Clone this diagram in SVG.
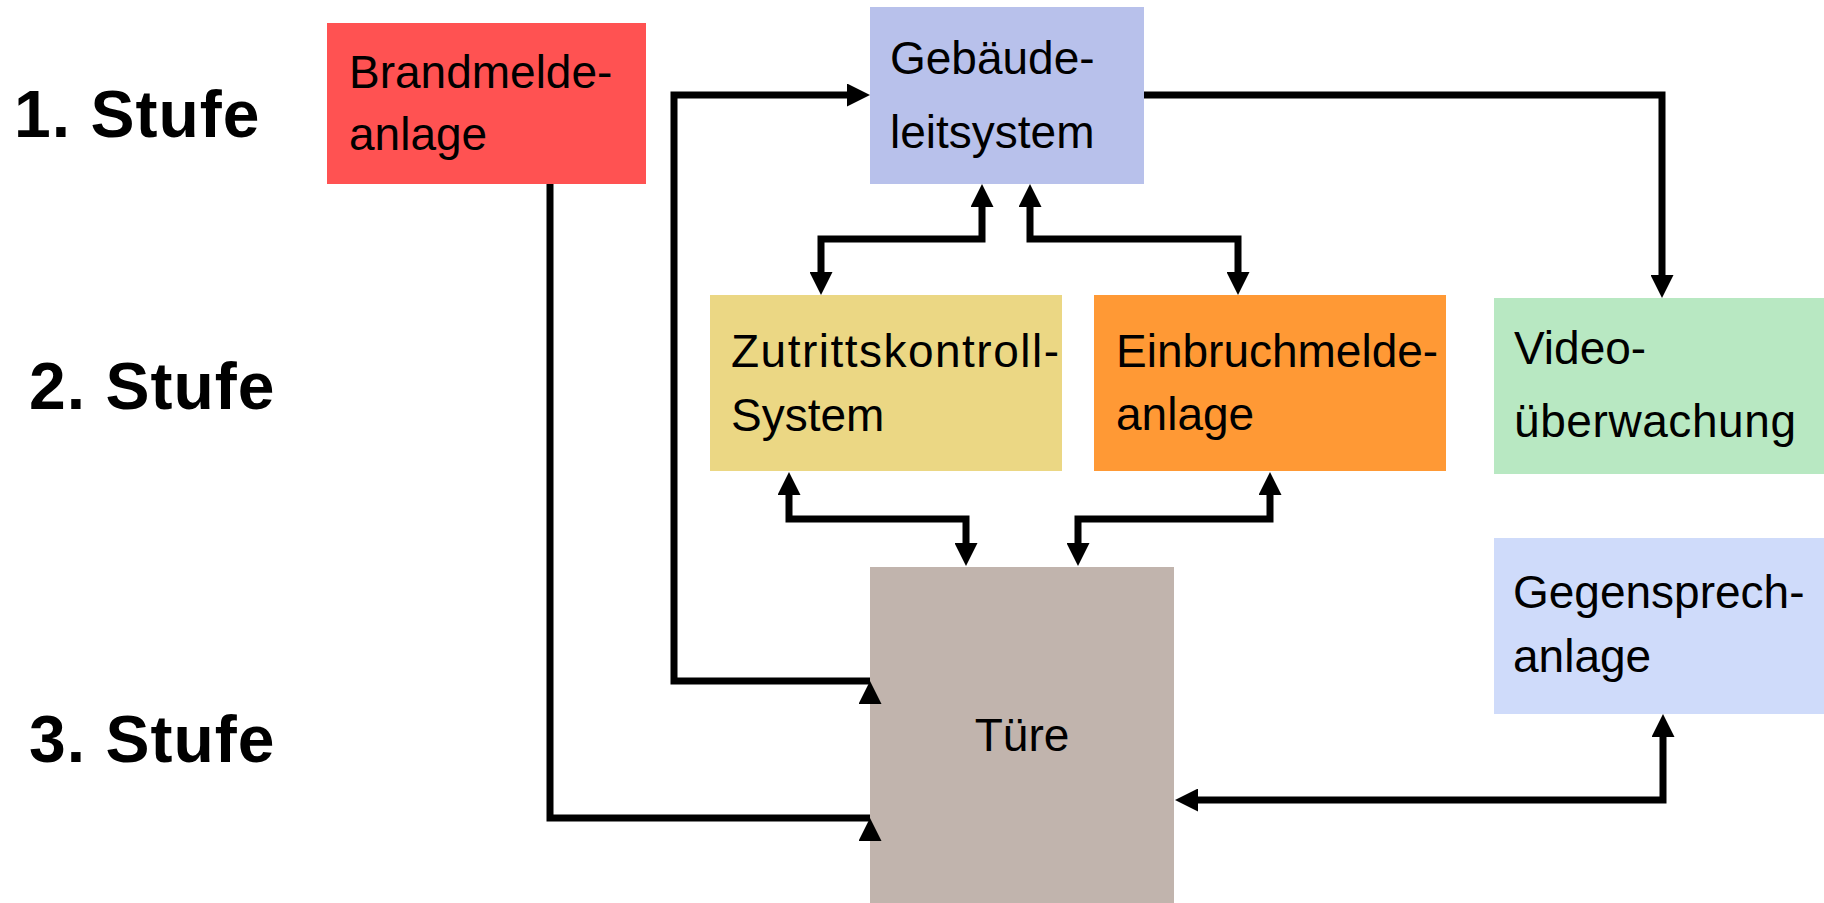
<svg xmlns="http://www.w3.org/2000/svg" width="1824" height="903" viewBox="0 0 1824 903">
<style>
.box text{font-family:"Liberation Sans",Arial,sans-serif;font-size:46px;fill:#000}
.stufe{font-family:"Liberation Sans",Arial,sans-serif;font-size:66px;font-weight:bold;fill:#000;letter-spacing:1px}
.conn{fill:none;stroke:#000;stroke-width:7;stroke-linejoin:miter;stroke-linecap:butt}
</style>
<defs>
<marker id="arrow" viewBox="0 0 23 23" markerWidth="23" markerHeight="23" markerUnits="userSpaceOnUse" refX="0" refY="11.5" orient="auto-start-reverse">
<path d="M0,0 L23,11.5 L0,23 z" fill="#000"/>
</marker>
<marker id="tipUp" viewBox="0 0 23 23" markerWidth="23" markerHeight="23" markerUnits="userSpaceOnUse" refX="23" refY="11.5" orient="270">
<path d="M0,0 L23,11.5 L0,23 z" fill="#000"/>
</marker>
</defs>
<rect width="1824" height="903" fill="#fff"/>
<g id="labels">
<text class="stufe" x="14" y="137">1. Stufe</text>
<text class="stufe" x="29" y="409">2. Stufe</text>
<text class="stufe" x="29" y="762">3. Stufe</text>
</g>
<g id="brandmeldeanlage" class="box">
<rect x="327" y="23" width="319" height="161" fill="#FF5252"/>
<text x="349" y="88">Brandmelde-</text>
<text x="349" y="150">anlage</text>
</g>
<g id="gebaeudeleitsystem" class="box">
<rect x="870" y="7" width="274" height="177" fill="#B8C1EB"/>
<text x="890" y="74">Gebäude-</text>
<text x="890" y="148">leitsystem</text>
</g>
<g id="zutrittskontrollsystem" class="box">
<rect x="710" y="295" width="352" height="176" fill="#EBD784"/>
<text x="731" y="367" textLength="328" lengthAdjust="spacing">Zutrittskontroll-</text>
<text x="731" y="431">System</text>
</g>
<g id="einbruchmeldeanlage" class="box">
<rect x="1094" y="295" width="352" height="176" fill="#FF9935"/>
<text x="1116" y="367">Einbruchmelde-</text>
<text x="1116" y="430">anlage</text>
</g>
<g id="videoueberwachung" class="box">
<rect x="1494" y="298" width="330" height="176" fill="#B8E8C2"/>
<text x="1514" y="364">Video-</text>
<text x="1514" y="437" textLength="282" lengthAdjust="spacing">überwachung</text>
</g>
<g id="gegensprechanlage" class="box">
<rect x="1494" y="538" width="330" height="176" fill="#CFDBFA"/>
<text x="1513" y="608">Gegensprech-</text>
<text x="1513" y="672">anlage</text>
</g>
<g id="tuere" class="box">
<rect x="870" y="567" width="304" height="336" fill="#C1B4AD"/>
<text x="1022" y="751" text-anchor="middle">Türe</text>
</g>
<g id="connectors">
<path class="conn" d="M1144,95 H1662 V275" marker-end="url(#arrow)"/>
<path class="conn" d="M870,681 H674 V95 H847" marker-start="url(#tipUp)" marker-end="url(#arrow)"/>
<path class="conn" d="M550,184 V818 H870" marker-end="url(#tipUp)"/>
<path class="conn" d="M982,207 V239 H821 V272" marker-start="url(#arrow)" marker-end="url(#arrow)"/>
<path class="conn" d="M1030,207 V239 H1238 V272" marker-start="url(#arrow)" marker-end="url(#arrow)"/>
<path class="conn" d="M789,495 V519 H966 V543" marker-start="url(#arrow)" marker-end="url(#arrow)"/>
<path class="conn" d="M1270,495 V519 H1078 V543" marker-start="url(#arrow)" marker-end="url(#arrow)"/>
<path class="conn" d="M1663,737 V800 H1198" marker-start="url(#arrow)" marker-end="url(#arrow)"/>
</g>
</svg>
